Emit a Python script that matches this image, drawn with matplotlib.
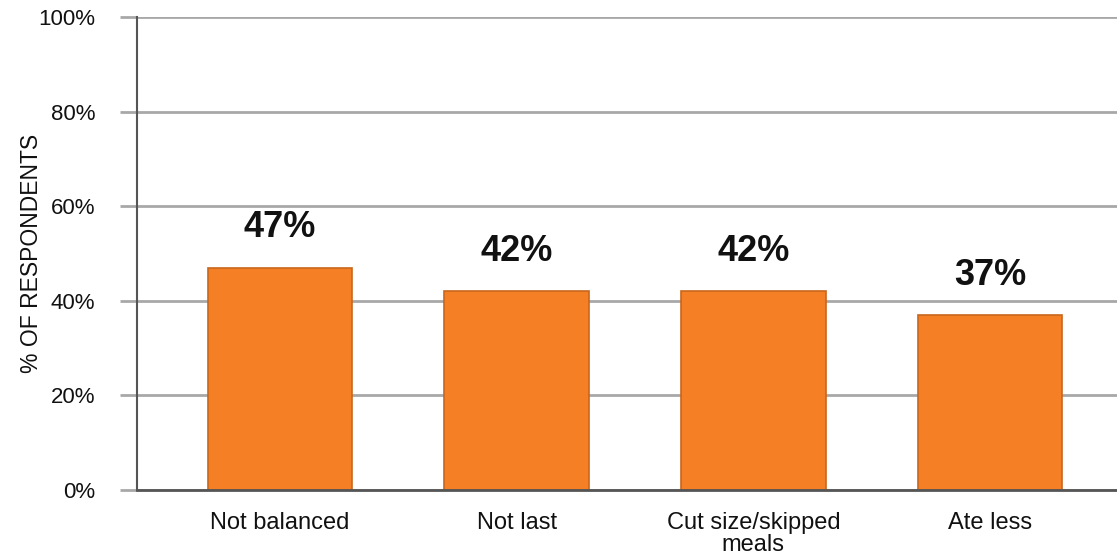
import numpy as np
import matplotlib
matplotlib.use("Agg")
import matplotlib.pyplot as plt
from matplotlib.ticker import PercentFormatter

plt.rcParams['font.family'] = ['Liberation Sans', 'DejaVu Sans']

categories = ["Not balanced", "Not last", "Cut size/skipped\nmeals", "Ate less"]
shares = [47, 42, 42, 37]  # % of respondents
y_ticks = [0, 20, 40, 60, 80, 100]

BAR_COLOR = "#F47F24"
BAR_EDGE = "#C9661C"
GRID_COLOR = "#A8A8A8"
AXIS_COLOR = "#555555"
TEXT_COLOR = "#111111"

fig = plt.figure(figsize=(11.17, 5.6), dpi=100)
ax = fig.add_axes([0.1227, 0.125, 0.8773, 0.8446])

x = np.arange(len(categories))
bars = ax.bar(x, shares, width=0.61, color=BAR_COLOR, edgecolor=BAR_EDGE,
              linewidth=1.2, zorder=3)

# value labels above each bar
for rect, val in zip(bars, shares):
    ax.annotate("%d%%" % val, (rect.get_x() + rect.get_width() / 2, val),
                xytext=(0, 16), textcoords="offset points",
                ha="center", va="bottom", fontsize=26, fontweight="bold",
                color=TEXT_COLOR)

ax.set_xlim(-0.603, 3.536)
ax.set_ylim(0, 100)
ax.set_yticks(y_ticks)
ax.yaxis.set_major_formatter(PercentFormatter(decimals=0))
ax.yaxis.grid(True, color=GRID_COLOR, linewidth=2, zorder=0)
ax.set_axisbelow(True)

ax.set_xticks(x)
ax.set_xticklabels(categories, fontsize=17, color=TEXT_COLOR, linespacing=1.0)
ax.tick_params(axis="x", length=0, pad=16)
ax.tick_params(axis="y", direction="out", length=12, width=2, color=GRID_COLOR,
               labelsize=16, labelcolor=TEXT_COLOR, pad=18)

ax.set_ylabel("% OF RESPONDENTS", fontsize=16.5, color=TEXT_COLOR, labelpad=-3)

for side in ("top", "right"):
    ax.spines[side].set_visible(False)
ax.spines["left"].set_color(AXIS_COLOR)
ax.spines["left"].set_linewidth(1.5)
ax.spines["bottom"].set_color(AXIS_COLOR)
ax.spines["bottom"].set_linewidth(2)
ax.spines["bottom"].set_zorder(4)

fig.savefig("out.png", dpi=100)
